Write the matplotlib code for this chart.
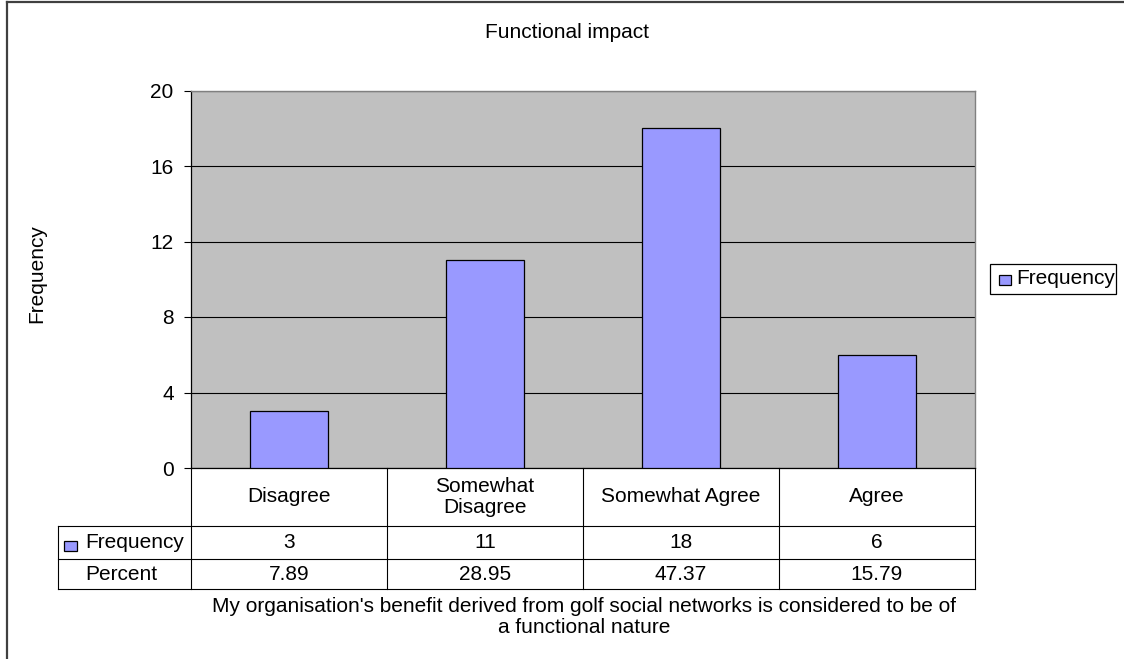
import matplotlib.pyplot as plt
from matplotlib.lines import Line2D
from matplotlib.patches import Rectangle
from matplotlib.transforms import blended_transform_factory

plt.rcParams['font.family'] = ['Liberation Sans', 'DejaVu Sans']

categories = ['Disagree', 'Somewhat\nDisagree', 'Somewhat Agree', 'Agree']
frequency = [3, 11, 18, 6]
percent = [7.89, 28.95, 47.37, 15.79]
y_ticks = [0, 4, 8, 12, 16, 20]

title = 'Functional impact'
x_title = ("My organisation's benefit derived from golf social networks is considered to be of\n"
           "a functional nature")
series_name = 'Frequency'

BAR_COLOR = '#9999FF'
PLOT_BG = '#C0C0C0'
FS = 15.0

W, H = 1124, 659
fig = plt.figure(figsize=(W / 100, H / 100), dpi=100)
fig.patch.set_facecolor('white')


def fx(px):
    return px / W


def fy(py):
    return 1 - py / H


# plot area in pixel terms
left, right, top, bottom = 191, 975, 90.5, 468
ax = fig.add_axes([fx(left), fy(bottom), fx(right - left), (bottom - top) / H])
ax.set_facecolor(PLOT_BG)

x = list(range(len(categories)))
ax.bar(x, frequency, width=0.4, color=BAR_COLOR, edgecolor='black', linewidth=0.9, zorder=3)
ax.set_xlim(-0.5, len(categories) - 0.5)
ax.set_ylim(0, 20)
ax.set_yticks(y_ticks)
ax.set_xticks([])
ax.yaxis.grid(True, color='black', linewidth=0.8)
ax.set_axisbelow(True)
ax.tick_params(axis='y', length=5, width=0.8, pad=7.5, labelsize=FS)
for side in ('top', 'right'):
    ax.spines[side].set_color('#808080')
    ax.spines[side].set_linewidth(1.0)
for side in ('left', 'bottom'):
    ax.spines[side].set_color('black')
    ax.spines[side].set_linewidth(0.9)

# data table below the plot area
plot_h = bottom - top
row_edges_px = [0, 58, 91, 121]
row_edges = [-r / plot_h for r in row_edges_px]
label_left = -0.5 - (left - 58) / ((right - left) / len(categories))
tr = blended_transform_factory(ax.transData, ax.transAxes)
n = len(categories)
line_kw = dict(color='black', linewidth=0.8, transform=tr, clip_on=False)

for y in row_edges[1:]:
    ax.add_line(Line2D([label_left, n - 0.5], [y, y], **line_kw))
for i in range(n + 1):
    xv = i - 0.5
    ax.add_line(Line2D([xv, xv], [0, row_edges[-1]], **line_kw))
ax.add_line(Line2D([label_left, label_left], [row_edges[1], row_edges[-1]], **line_kw))

mid = [(row_edges[k] + row_edges[k + 1]) / 2 for k in range(3)]
for i, cat in enumerate(categories):
    ax.text(i, mid[0], cat, ha='center', va='center', fontsize=FS, transform=tr,
            linespacing=1.15)
    ax.text(i, mid[1], f'{frequency[i]}', ha='center', va='center', fontsize=FS, transform=tr)
    ax.text(i, mid[2], f'{percent[i]:.2f}', ha='center', va='center', fontsize=FS, transform=tr)

# overlay in pixel coordinates for labels, legend and border
ax_fig = fig.add_axes([0, 0, 1, 1], facecolor='none')
ax_fig.set_xlim(0, W)
ax_fig.set_ylim(H, 0)
ax_fig.axis('off')

# row labels with legend key
ax_fig.add_patch(Rectangle((64, 541), 13, 10, facecolor=BAR_COLOR, edgecolor='black', linewidth=0.9))
ax_fig.text(85, 543, series_name, ha='left', va='center', fontsize=FS)
ax_fig.text(85, 574, 'Percent', ha='left', va='center', fontsize=FS)

# legend box on the right
ax_fig.add_patch(Rectangle((990, 264), 126, 30, facecolor='white', edgecolor='black', linewidth=0.9))
ax_fig.add_patch(Rectangle((999, 275), 12, 10, facecolor=BAR_COLOR, edgecolor='black', linewidth=0.9))
ax_fig.text(1016, 279, series_name, ha='left', va='center', fontsize=FS)

# titles
ax_fig.text(567, 33, title, ha='center', va='center', fontsize=FS)
ax_fig.text(37, 274, 'Frequency', ha='center', va='center', rotation=90, fontsize=FS)
ax_fig.text(584, 617, x_title, ha='center', va='center', fontsize=FS, linespacing=1.12)

# chart border (top and left edges)
ax_fig.add_line(Line2D([7, W], [2, 2], color='#404040', linewidth=1.6))
ax_fig.add_line(Line2D([7, 7], [2, H], color='#404040', linewidth=1.6))

fig.savefig('out.png', dpi=100)
